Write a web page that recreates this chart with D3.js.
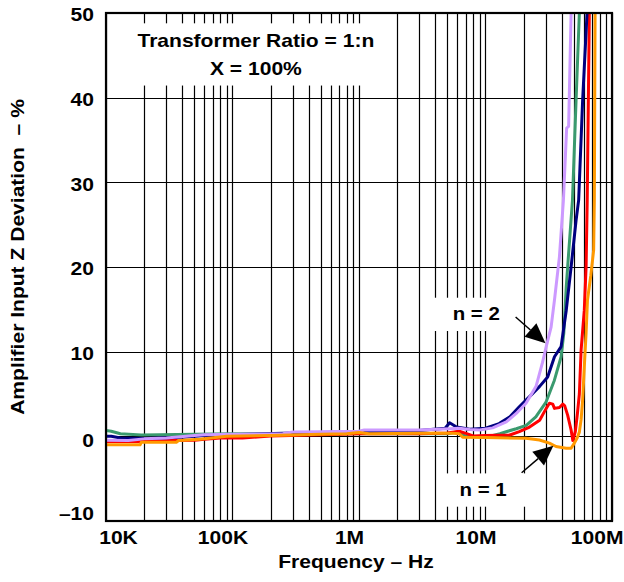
<!DOCTYPE html>
<html>
<head>
<meta charset="utf-8">
<script src="https://cdn.jsdelivr.net/npm/d3@7"></script>
<style>
  body { margin: 0; background: #fff; }
  text { font-family: "Liberation Sans", Arial, sans-serif; font-weight: bold; fill: #000; }
</style>
</head>
<body>
<div class="chart"></div>
<script>
// axis ticks
var xTicks = [1e4, 1e5, 1e6, 1e7, 1e8];
var xTickLabels = ["10K", "100K", "1M", "10M", "100M"];
var yTicks = [-10, 0, 10, 20, 30, 40, 50];
var yTickLabels = ["\u201310", "0", "10", "20", "30", "40", "50"];

// curves: frequency (Hz) / deviation (%)
var greenFreq = [1e4, 1.1e4, 1.3e4, 1.9e4, 5e4, 1e5, 3e5, 1e6, 3e6, 5e6, 6e6, 7e6, 1.05e7, 1.3e7, 1.5e7, 1.75e7, 2.1e7, 2.5e7, 3.0e7, 3.5e7, 3.96e7, 4.16e7, 4.35e7, 4.46e7, 4.87e7, 5.2e7, 5.52e7];
var greenDev  = [0.7, 0.6, 0.3, 0.15, 0.25, 0.3, 0.3, 0.3, 0.3, 0.3, 0.5, 0.0, -0.05, 0.3, 0.6, 0.9, 1.3, 2.3, 4.0, 6.6, 9.4, 12.2, 17.7, 20, 27.9, 39.7, 50];

var redFreq = [1e4, 2e4, 3e4, 5e4, 6e4, 8e4, 1.2e5, 2e5, 5e5, 1e6, 3e6, 5e6, 6.2e6, 7e6, 8e6, 1e7, 1.56e7, 1.85e7, 2.23e7, 2.68e7, 3.02e7, 3.2e7, 3.4e7, 3.51e7, 3.84e7, 4.09e7, 4.23e7, 4.46e7, 4.75e7, 4.9e7, 5.13e7, 5.33e7, 5.52e7, 5.7e7, 6.04e7, 6.24e7, 6.37e7, 6.62e7];
var redDev  = [-0.6, -0.6, -0.5, -0.45, -0.35, -0.2, -0.2, 0.05, 0.2, 0.3, 0.3, 0.4, 0.6, 0.35, 0.05, 0.1, 0.16, 0.55, 1.1, 1.9, 3.3, 3.9, 3.8, 3.3, 3.4, 3.8, 3.6, 2.5, 0.75, -0.5, 0.55, 2.7, 5.0, 10.2, 14.9, 20, 27.9, 50];

var navyFreq = [1e4, 1.1e4, 1.3e4, 2e4, 4e4, 6e4, 1e5, 3e5, 1e6, 3e6, 4.8e6, 5.2e6, 5.9e6, 7.5e6, 1e7, 1.28e7, 1.56e7, 1.85e7, 2.3e7, 2.68e7, 3.1e7, 3.51e7, 3.96e7, 4.35e7, 4.75e7, 5.2e7, 5.45e7, 5.86e7, 6.35e7];
var navyDev  = [0.0, 0.0, -0.2, -0.25, -0.1, 0.1, 0.2, 0.4, 0.55, 0.7, 0.95, 1.6, 1.1, 0.83, 0.95, 1.5, 2.3, 3.5, 4.9, 5.9, 7.0, 9.4, 10.6, 14.9, 20, 25.5, 27.9, 39.7, 50];

var lavenderFreq = [1e4, 1.5e4, 2e4, 3e4, 5e4, 6e4, 1e5, 2.5e5, 3e5, 5e5, 1e6, 1.1e6, 3e6, 5.2e6, 6.2e6, 7.5e6, 9e6, 1.14e7, 1.46e7, 1.75e7, 2.09e7, 2.51e7, 2.82e7, 3.02e7, 3.3e7, 3.51e7, 3.84e7, 4.13e7, 4.38e7, 4.54e7, 4.75e7];
var lavenderDev  = [-0.45, -0.5, -0.3, -0.2, 0.1, 0.2, 0.25, 0.3, 0.5, 0.55, 0.6, 0.75, 0.75, 0.9, 0.95, 0.8, 0.75, 1.0, 1.7, 2.7, 3.9, 5.9, 8.7, 10.6, 12.9, 16.1, 21.2, 27.9, 36.4, 36.6, 50];

var orangeFreq = [1e4, 1.86e4, 1.9e4, 3.6e4, 3.75e4, 5.5e4, 9e4, 2e5, 5e5, 8e5, 1e6, 1.2e6, 3e6, 5.5e6, 6.2e6, 6.6e6, 1e7, 2.09e7, 2.67e7, 3.2e7, 3.61e7, 4.34e7, 4.75e7, 5.04e7, 5.3e7, 5.52e7, 5.7e7, 5.86e7, 6.04e7, 6.24e7, 6.4e7, 6.8e7, 7.16e7, 7.25e7, 7.35e7];
var orangeDev  = [-1.0, -1.0, -0.7, -0.7, -0.5, -0.35, 0.0, 0.1, 0.25, 0.3, 0.45, 0.3, 0.35, 0.36, 0.3, -0.1, -0.15, -0.23, -0.43, -0.8, -1.2, -1.4, -1.4, -0.8, -0.2, 0.5, 2.0, 4.3, 8.2, 12.2, 16.1, 19, 22, 27.9, 50];

var seriesNames  = ["green", "red", "navy", "lavender", "orange"];
var seriesColors = ["#3a9a6e", "#ff0000", "#000080", "#cc99ff", "#ff9900"];
var seriesFreq   = [greenFreq, redFreq, navyFreq, lavenderFreq, orangeFreq];
var seriesDev    = [greenDev, redDev, navyDev, lavenderDev, orangeDev];

var margin = {top: 13, right: 12, bottom: 61, left: 106},
    width = 624 - margin.left - margin.right,
    height = 582 - margin.top - margin.bottom;
var stretch = 1.17; // glyphs in the original are wider than Arial

var x = d3.scaleLog().domain([1e4, 1e8]).range([0, width]);
var y = d3.scaleLinear().domain([-10, 50]).range([height, 0]);

var svg = d3.select(".chart").append("svg")
    .attr("width", 624)
    .attr("height", 582);
var g = svg.append("g")
    .attr("transform", "translate(" + margin.left + "," + margin.top + ")");

// grid
g.append("g")
    .selectAll("line")
    .data(x.ticks())
    .enter().append("line")
    .attr("x1", function(d) { return Math.round(x(d)) + 0.5; })
    .attr("x2", function(d) { return Math.round(x(d)) + 0.5; })
    .attr("y1", 0)
    .attr("y2", height)
    .attr("stroke", "#000")
    .attr("stroke-width", 1.2);

g.append("g")
    .selectAll("line")
    .data(yTicks)
    .enter().append("line")
    .attr("x1", 0)
    .attr("x2", width)
    .attr("y1", function(d) { return Math.round(y(d)) + 0.5; })
    .attr("y2", function(d) { return Math.round(y(d)) + 0.5; })
    .attr("stroke", "#000")
    .attr("stroke-width", 1.2);

// text labels with white boxes behind
function boxedText(lines, f, v, size, padX, padY) {
    var grp = g.append("g");
    var bg = grp.append("rect").attr("fill", "#fff");
    var t = grp.append("g");
    lines.forEach(function(s, i) {
        t.append("text")
            .attr("transform", "translate(" + x(f) + "," + (y(v) + i * 28) + ") scale(" + stretch + ",1)")
            .attr("text-anchor", "middle")
            .attr("font-size", size)
            .text(s);
    });
    var b = t.node().getBBox();
    bg.attr("x", b.x - padX).attr("y", b.y - padY)
      .attr("width", b.width + 2 * padX).attr("height", b.height + 2 * padY);
}

boxedText(["Transformer Ratio = 1:n", "X = 100%"], 1.53e5, 46.0, 18, 16, 7);
boxedText(["n = 2"], 8.45e6, 13.7, 17.5, 19, 7);
boxedText(["n = 1"], 9.57e6, -7.05, 17.5, 19, 7);

// curves
g.append("clipPath").attr("id", "plot-clip")
  .append("rect").attr("width", width).attr("height", height);

var line = d3.line()
    .x(function(d) { return x(d[0]); })
    .y(function(d) { return y(d[1]); });

g.append("g")
    .attr("clip-path", "url(#plot-clip)")
    .selectAll("path")
    .data(seriesNames)
    .enter().append("path")
    .attr("fill", "none")
    .attr("stroke", function(d, i) { return seriesColors[i]; })
    .attr("stroke-width", 3)
    .attr("stroke-linejoin", "round")
    .attr("d", function(d, i) { return line(d3.zip(seriesFreq[i], seriesDev[i])); });

// arrows
function arrow(f0, v0, f1, v1) {
    var x0 = x(f0), y0 = y(v0), x1 = x(f1), y1 = y(v1);
    var dx = x1 - x0, dy = y1 - y0, len = Math.sqrt(dx * dx + dy * dy);
    var ux = dx / len, uy = dy / len;
    var hl = 20, hw = 9;
    var bx = x1 - ux * hl, by = y1 - uy * hl;
    g.append("line")
        .attr("x1", x0).attr("y1", y0).attr("x2", bx).attr("y2", by)
        .attr("stroke", "#000").attr("stroke-width", 1.5);
    g.append("path")
        .attr("d", "M" + x1 + "," + y1 +
                   "L" + (bx - uy * hw) + "," + (by + ux * hw) +
                   "L" + (bx + uy * hw) + "," + (by - ux * hw) + "Z")
        .attr("fill", "#000");
}
arrow(1.73e7, 14.1, 2.98e7, 11.0);
arrow(1.93e7, -4.3, 3.44e7, -1.1);

// frame
g.append("rect")
    .attr("width", width)
    .attr("height", height)
    .attr("fill", "none")
    .attr("stroke", "#000")
    .attr("stroke-width", 2.2);

// axes
var last = xTicks.length - 1;
var xAxis = g.append("g")
    .attr("transform", "translate(0," + height + ")")
    .call(d3.axisBottom(x).tickValues(xTicks)
        .tickFormat(function(d, i) { return xTickLabels[i]; })
        .tickSize(0).tickPadding(10));
xAxis.select(".domain").remove();
xAxis.selectAll("text")
    .attr("font-size", 18)
    .attr("font-family", null)
    .attr("text-anchor", function(d, i) { return i === last ? "end" : "middle"; })
    .attr("transform", function(d, i) {
        var dx = i === 0 ? 12 : i === last ? 11 : -10;
        return "translate(" + dx + ",0) scale(" + stretch + ",1)";
    });

var yAxis = g.append("g")
    .call(d3.axisLeft(y).tickValues(yTicks)
        .tickFormat(function(d, i) { return yTickLabels[i]; })
        .tickSize(0).tickPadding(0));
yAxis.select(".domain").remove();
yAxis.selectAll("text")
    .attr("font-size", 18)
    .attr("font-family", null)
    .attr("x", 0)
    .attr("transform", function(d) { return "translate(-12," + (d === -10 ? -7 : d === 0 ? 4 : 2) + ") scale(" + stretch + ",1)"; });

// axis titles
svg.append("text")
    .attr("transform", "translate(" + (margin.left + width / 2 - 3) + ",568) scale(" + stretch + ",1)")
    .attr("text-anchor", "middle")
    .attr("font-size", 18)
    .text("Frequency \u2013 Hz");

svg.append("text")
    .attr("transform", "translate(24,257) rotate(-90) scale(" + stretch + ",1)")
    .attr("text-anchor", "middle")
    .attr("font-size", 18)
    .attr("xml:space", "preserve")
    .style("white-space", "pre")
    .text("Amplifier Input Z Deviation  \u2013 %");
</script>
</body>
</html>
